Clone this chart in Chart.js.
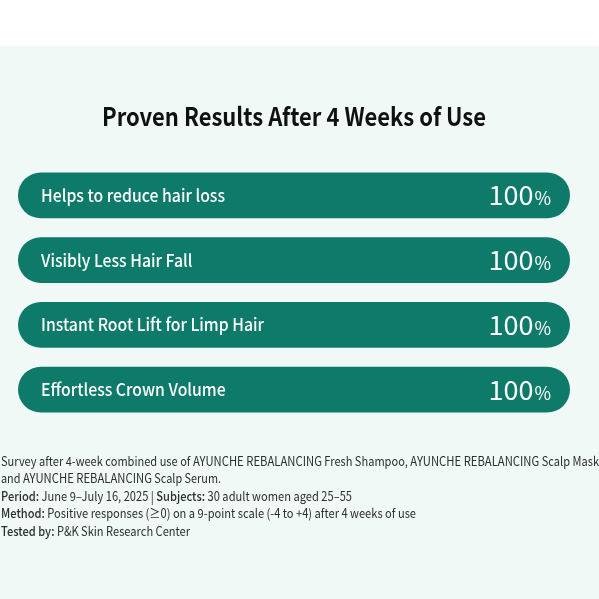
<!DOCTYPE html>
<html>
<head>
<meta charset="utf-8">
<script src="https://cdn.jsdelivr.net/npm/chart.js@4"></script>
<style>
html,body{margin:0;padding:0;background:#f0f9f6;overflow:hidden;}
canvas{display:block;}
</style>
</head>
<body>
<canvas id="c" width="599" height="599"></canvas>
<script>
const categories = [
  "Helps to reduce hair loss",
  "Visibly Less Hair Fall",
  "Instant Root Lift for Limp Hair",
  "Effortless Crown Volume"
];
const values = [100, 100, 100, 100];
const axisMin = 0;
const axisMax = 100;
const titleText = "Proven Results After 4 Weeks of Use";
const footnoteLines = [
  [["", "Survey after 4-week combined use of AYUNCHE REBALANCING Fresh Shampoo, AYUNCHE REBALANCING Scalp Mask"], ["", ","]],
  [["", "and AYUNCHE REBALANCING Scalp Serum."]],
  [["b", "Period:"], ["", " June 9\u2013July 16, 2025 | "], ["b", "Subjects:"], ["", " 30 adult women aged 25\u201355"]],
  [["b", "Method:"], ["", " Positive responses (\u22650) on a 9-point scale (-4 to +4) after 4 weeks of use"]],
  [["b", "Tested by:"], ["", " P&K Skin Research Center"]]
];

const FONT = '"Noto Sans CJK KR", "Noto Sans", sans-serif';
const BAR_COLOR = '#0e7a6a';
const footEnds = [599, 221, 352, 416, 190];
const capsRunWidth = 129;

function squeezed(ctx, txt, x, y, sx) {
  ctx.save();
  ctx.translate(x, y);
  ctx.scale(sx, 1);
  ctx.textAlign = 'left';
  ctx.fillText(txt, 0, 0);
  const w = ctx.measureText(txt).width * sx;
  ctx.restore();
  return w;
}

const decorPlugin = {
  id: 'decor',
  beforeDraw(chart) {
    const ctx = chart.ctx;
    ctx.save();
    ctx.fillStyle = '#ffffff';
    ctx.fillRect(0, 0, chart.width, 46);
    ctx.fillStyle = '#f0f9f6';
    ctx.fillRect(0, 46, chart.width, chart.height - 46);
    ctx.fillStyle = '#111111';
    ctx.font = 'bold 25px ' + FONT;
    ctx.textBaseline = 'alphabetic';
    const sx = 0.88;
    const w = ctx.measureText(titleText).width * sx;
    squeezed(ctx, titleText, 294 - w / 2, 126, sx);
    ctx.restore();
  },
  afterDatasetsDraw(chart) {
    const ctx = chart.ctx;
    const meta = chart.getDatasetMeta(0);
    ctx.save();
    ctx.fillStyle = '#ffffff';
    ctx.textBaseline = 'alphabetic';
    meta.data.forEach((bar, i) => {
      const y = bar.y;
      ctx.font = '500 17px ' + FONT;
      squeezed(ctx, categories[i], bar.base + 23, y + 6.5, 0.93);
      ctx.textAlign = 'right';
      ctx.font = '400 18px ' + FONT;
      const pctRight = bar.x - 19;
      ctx.fillText('%', pctRight, y + 10);
      const pw = ctx.measureText('%').width;
      ctx.font = '400 27px ' + FONT;
      ctx.fillText(String(values[i]), pctRight - pw - 1, y + 10);
    });
    ctx.restore();
  },
  afterDraw(chart) {
    const ctx = chart.ctx;
    ctx.save();
    ctx.fillStyle = '#2e2e2e';
    ctx.textBaseline = 'alphabetic';
    const baseY = 465.5;
    const lh = 17.6;
    const fontFor = s => (s === 'b' ? '500 ' : '400 ') + '12.5px ' + FONT;
    ctx.font = fontFor('');
    const capsScale = capsRunWidth / ctx.measureText('AYUNCHE REBALANCING').width;
    const capsRe = /([A-Z]{2,}(?: [A-Z]{2,})*)/;
    footnoteLines.forEach((segs, li) => {
      const toks = [];
      segs.forEach(([style, txt], si) => {
        const parts = txt.split(capsRe);
        parts.forEach((p, pi) => {
          if (!p) return;
          ctx.font = fontFor(style);
          toks.push({ style, txt: p, caps: pi % 2 === 1, w: ctx.measureText(p).width,
                      fit: !(li === 0 && si === segs.length - 1) });
        });
      });
      let wc = 0, wo = 0;
      toks.forEach(t => { if (!t.fit) return; if (t.caps) wc += t.w; else wo += t.w; });
      const so = (footEnds[li] - 1 - wc * capsScale) / wo;
      let x = 1;
      const y = baseY + li * lh;
      toks.forEach(t => {
        ctx.font = fontFor(t.style);
        x += squeezed(ctx, t.txt, x, y, t.caps ? capsScale : so);
      });
    });
    ctx.restore();
  }
};

new Chart(document.getElementById('c'), {
  type: 'bar',
  data: {
    labels: categories,
    datasets: [{
      data: values,
      backgroundColor: BAR_COLOR,
      borderRadius: 23,
      borderSkipped: false,
      categoryPercentage: 1,
      barPercentage: 0.71
    }]
  },
  options: {
    indexAxis: 'y',
    responsive: false,
    animation: false,
    layout: { padding: { left: 18, right: 29, top: 163, bottom: 177 } },
    scales: {
      x: { display: false, min: axisMin, max: axisMax },
      y: { display: false }
    },
    plugins: {
      legend: { display: false },
      tooltip: { enabled: false },
      title: { display: false }
    }
  },
  plugins: [decorPlugin]
});
</script>
</body>
</html>
